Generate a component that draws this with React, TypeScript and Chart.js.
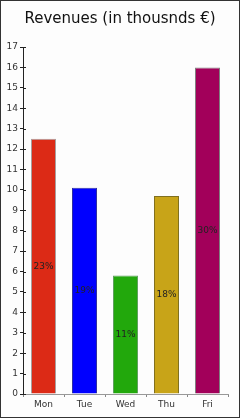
import React, { useEffect, useRef } from "react";
import { Chart, registerables } from "chart.js";

Chart.register(...registerables);

const TITLE = "Revenues (in thousnds €)";
const categories = ["Mon", "Tue", "Wed", "Thu", "Fri"];
const revenues = [12.5, 10.1, 5.8, 9.7, 16.0];
const percentLabels = ["23%", "19%", "11%", "18%", "30%"];
const barColors = ["#dc2a16", "#0000ff", "#22a80c", "#c8a418", "#a2005a"];
const barBorders = ["#a8a0a0", "#3030a0", "#60a060", "#807020", "#808080"];
const yMin = 0;
const yMax = 17;

const FONT = "'DejaVu Sans', Verdana, sans-serif";

const crossTicks = {
  id: "crossTicks",
  afterDraw(chart: any) {
    const y = chart.scales.y;
    const ctx = chart.ctx;
    ctx.save();
    ctx.strokeStyle = "#222";
    ctx.lineWidth = 1;
    y.ticks.forEach((t: any) => {
      const py = Math.round(y.getPixelForValue(t.value)) + 0.5;
      ctx.beginPath();
      ctx.moveTo(y.right, py);
      ctx.lineTo(y.right + 3, py);
      ctx.stroke();
    });
    ctx.restore();
  },
};

const barLabels = {
  id: "barLabels",
  afterDatasetsDraw(chart: any) {
    const meta = chart.getDatasetMeta(0);
    const ctx = chart.ctx;
    ctx.save();
    ctx.font = `9px ${FONT}`;
    ctx.fillStyle = "#222";
    ctx.textAlign = "center";
    ctx.textBaseline = "middle";
    meta.data.forEach((bar: any, i: number) => {
      ctx.fillText(percentLabels[i], bar.x, (bar.y + bar.base) / 2);
    });
    ctx.restore();
  },
};

export default function App() {
  const ref = useRef<HTMLCanvasElement>(null);
  useEffect(() => {
    document.body.style.margin = "0";
    const chart = new Chart(ref.current!, {
      type: "bar",
      data: {
        labels: categories,
        datasets: [
          {
            data: revenues,
            backgroundColor: barColors,
            borderColor: barBorders,
            borderWidth: 1,
            barPercentage: 0.61,
            categoryPercentage: 1,
          },
        ],
      },
      options: {
        animation: false,
        responsive: false,
        layout: { padding: 0 },
        plugins: {
          legend: { display: false },
          tooltip: { enabled: false },
          title: {
            display: true,
            text: TITLE,
            color: "#111",
            font: { family: FONT, size: 15, weight: "normal" },
            padding: { top: 9, bottom: 19 },
          },
        },
        scales: {
          x: {
            offset: true,
            grid: {
              offset: true,
              drawOnChartArea: false,
              tickLength: 3,
              color: "#888",
            },
            border: { color: "#999", width: 1 },
            ticks: {
              color: "#333",
              font: { family: FONT, size: 9 },
              padding: 2,
            },
            afterFit(s: any) {
              s.height = 22;
            },
          },
          y: {
            min: yMin,
            max: yMax,
            grid: { drawOnChartArea: false, tickLength: 3, color: "#222" },
            border: { color: "#222", width: 1 },
            ticks: {
              stepSize: 1,
              color: "#333",
              font: { family: FONT, size: 9 },
              padding: 2,
            },
            afterFit(s: any) {
              s.width = 22;
            },
          },
          yr: {
            position: "right",
            display: true,
            grid: { display: false },
            border: { display: false },
            ticks: { display: false },
            afterFit(s: any) {
              s.width = 11;
            },
          },
        },
      },
      plugins: [crossTicks, barLabels],
    });
    return () => chart.destroy();
  }, []);
  return (
    <div
      style={{
        position: "absolute",
        left: 0,
        top: 0,
        width: 240,
        height: 418,
        boxSizing: "border-box",
        border: "1px solid #333",
        background: "#fdfdfd",
      }}
    >
      <canvas ref={ref} width={238} height={415} style={{ display: "block" }} />
    </div>
  );
}
